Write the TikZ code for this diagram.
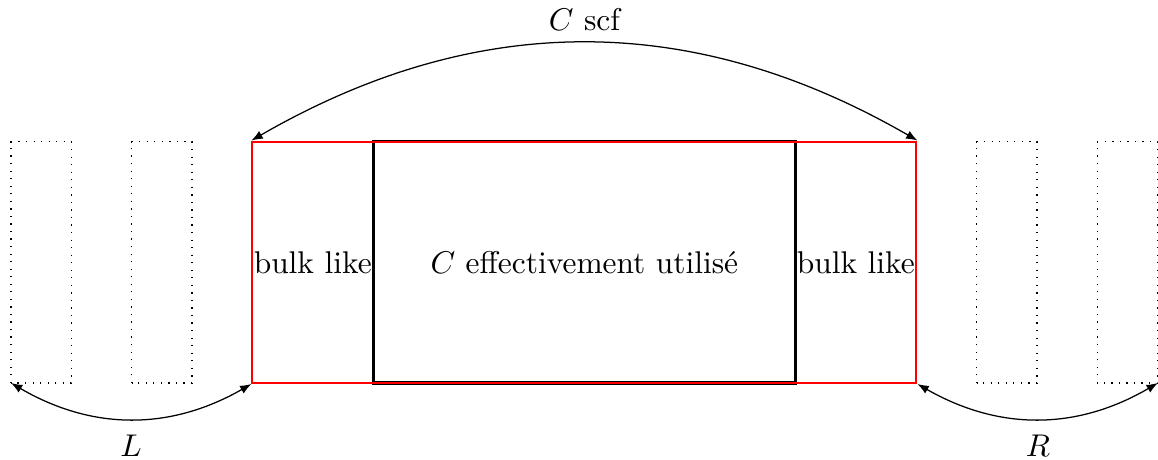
\documentclass[tikz,border=0pt]{standalone}
\usetikzlibrary{arrows.meta}
\begin{document}
\begin{tikzpicture}[scale=1.35, >={Latex[length=3.6pt,width=2.8pt]},
  cell/.style={dotted},
  bulkzone/.style={draw=red, line width=0.65pt},
  usedzone/.style={draw=black, line width=1pt},
  span/.style={<->}]
\useasboundingbox (-0.091,-0.638) rectangle (9.503,3.173);
% dotted cells
\draw[cell] (0,0) rectangle (0.5,2);
\draw[cell] (1,0) rectangle (1.5,2);
\draw[cell] (8,0) rectangle (8.5,2);
\draw[cell] (9,0) rectangle (9.5,2);
% corners
\coordinate (l0) at (0,0);
\coordinate (r1) at (9.5,0);
% used region and bulk region
\node[usedzone, minimum width=3.5*1.35cm, minimum height=2*1.35cm, inner sep=0pt] (used) at (4.75,1) {$C$ effectivement utilis\'e};
\node[bulkzone, minimum width=5.5*1.35cm, minimum height=2*1.35cm, inner sep=0pt] (bulk) at (4.75,1) {};
\node[inner sep=0pt] (bl) at (2.5,1) {bulk like};
\node[inner sep=0pt] (br) at (7,1) {bulk like};
% spans
\draw[span] (bulk.north west) to[bend left=30] node[above=0.5pt] (scf) {$C$ scf} (bulk.north east);
\draw[span] (l0) to[bend right=30] node[below=1.5pt] (lab L) {$L$} (bulk.south west);
\draw[span] (bulk.south east) to[bend right=30] node[below=1.5pt] (lab R) {$R$} (r1);
\end{tikzpicture}
\end{document}
